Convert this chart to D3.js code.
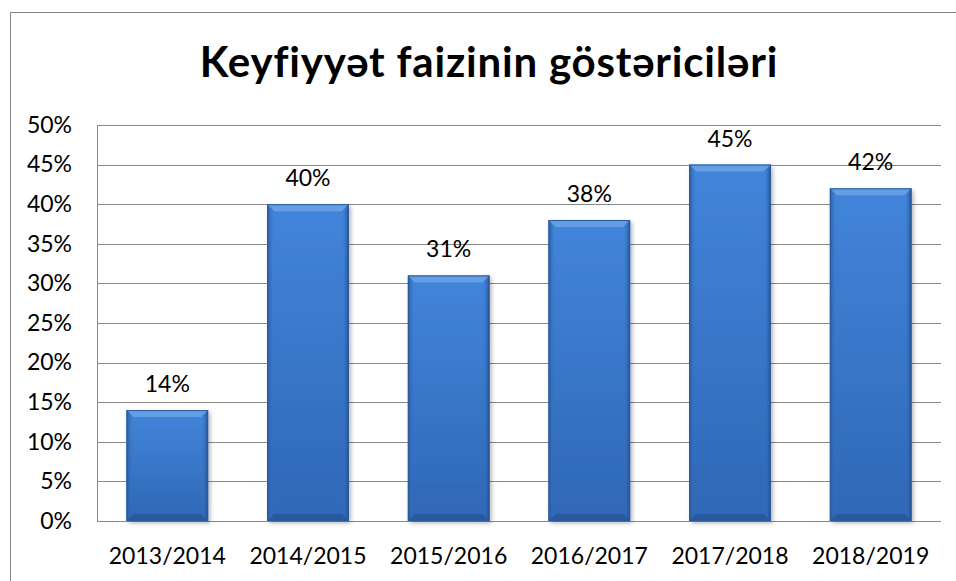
<!DOCTYPE html>
<html>
<head>
<meta charset="utf-8">
<script src="https://cdnjs.cloudflare.com/ajax/libs/d3/7.8.5/d3.min.js"></script>
<style>
	body { margin: 0; background: #fff; }
	text { font-family: Lato, "Open Sans", sans-serif; fill: #000; }
</style>
</head>
<body>
<div id="chart"></div>
<script>
var categories = ["2013/2014", "2014/2015", "2015/2016", "2016/2017", "2017/2018", "2018/2019"];
var values = [14, 40, 31, 38, 45, 42];
var yTicks = [0, 5, 10, 15, 20, 25, 30, 35, 40, 45, 50];
var title = "Keyfiyyət faizinin göstəriciləri";

var width = 956, height = 581;
var plot = { left: 97, right: 941, top: 125, bottom: 521 };
var labelSize = "23px";

var svg = d3.select("#chart").append("svg")
	.attr("width", width)
	.attr("height", height);

// bar gradients
var defs = svg.append("defs");
var body = defs.append("linearGradient").attr("id", "barBody")
	.attr("x1", 0).attr("y1", 0).attr("x2", 0).attr("y2", 1);
body.append("stop").attr("offset", "0%").attr("stop-color", "#4285da");
body.append("stop").attr("offset", "100%").attr("stop-color", "#2f67b6");

var side = defs.append("linearGradient").attr("id", "barSide")
	.attr("x1", 0).attr("y1", 0).attr("x2", 1).attr("y2", 0);
side.append("stop").attr("offset", "0%").attr("stop-color", "#2a5a9f");
side.append("stop").attr("offset", "8%").attr("stop-color", "#3a77c9").attr("stop-opacity", 0);
side.append("stop").attr("offset", "92%").attr("stop-color", "#3a77c9").attr("stop-opacity", 0);
side.append("stop").attr("offset", "100%").attr("stop-color", "#244f8e");

defs.append("filter").attr("id", "shadow")
	.attr("x", "-10%").attr("y", "-10%").attr("width", "130%").attr("height", "130%")
	.append("feDropShadow")
	.attr("dx", 2).attr("dy", 2).attr("stdDeviation", 2)
	.attr("flood-color", "#000").attr("flood-opacity", 0.3);

// outer frame
svg.append("rect")
	.attr("x", 10.5).attr("y", 12.5)
	.attr("width", 980).attr("height", 620)
	.attr("fill", "none")
	.attr("stroke", "#868686");

svg.append("text")
	.attr("x", 489)
	.attr("y", 77)
	.attr("text-anchor", "middle")
	.style("font-size", "42px")
	.style("font-weight", "bold")
	.style("letter-spacing", "0.8px")
	.text(title);

var x = d3.scaleBand()
	.domain(categories)
	.range([plot.left, plot.right])
	.paddingInner(0.42)
	.paddingOuter(0.21);

var y = d3.scaleLinear()
	.domain([0, 50])
	.range([plot.bottom, plot.top]);

// gridlines
svg.append("g")
	.selectAll("line")
	.data(yTicks)
	.enter()
	.append("line")
	.attr("x1", plot.left)
	.attr("x2", plot.right)
	.attr("y1", function(d) { return Math.round(y(d)) + 0.5; })
	.attr("y2", function(d) { return Math.round(y(d)) + 0.5; })
	.attr("stroke", "#898989")
	.attr("stroke-width", 1.2);

svg.append("line")
	.attr("x1", plot.left + 0.5).attr("x2", plot.left + 0.5)
	.attr("y1", plot.top).attr("y2", plot.bottom + 1)
	.attr("stroke", "#898989");

// y axis labels
var yAxis = svg.append("g")
	.attr("transform", "translate(" + (plot.left - 25) + ",0)")
	.call(d3.axisLeft(y).tickValues(yTicks).tickSize(0).tickPadding(0)
		.tickFormat(function(d) { return d + "%"; }));
yAxis.select(".domain").remove();
yAxis.selectAll("text")
	.style("font-size", labelSize)
	.style("font-family", "Lato, sans-serif")
	.attr("fill", "#000");

// x axis labels
var xAxis = svg.append("g")
	.attr("transform", "translate(0," + plot.bottom + ")")
	.call(d3.axisBottom(x).tickSize(0).tickPadding(0));
xAxis.select(".domain").remove();
xAxis.selectAll("text")
	.attr("dy", null)
	.attr("y", 43)
	.style("font-size", labelSize)
	.style("font-family", "Lato, sans-serif")
	.attr("fill", "#000");

// bars
var bars = svg.append("g")
	.selectAll("g.bar")
	.data(values)
	.enter()
	.append("g")
	.classed("bar", true);

bars.append("rect")
	.attr("x", function(d, i) { return x(categories[i]); })
	.attr("y", function(d) { return y(d); })
	.attr("width", x.bandwidth())
	.attr("height", function(d) { return y(0) - y(d); })
	.attr("fill", "url(#barBody)")
	.attr("filter", "url(#shadow)");

bars.append("rect")
	.attr("x", function(d, i) { return x(categories[i]); })
	.attr("y", function(d) { return y(d); })
	.attr("width", x.bandwidth())
	.attr("height", function(d) { return y(0) - y(d); })
	.attr("fill", "url(#barSide)");

// top bevel
var bev = 7;
bars.append("path")
	.attr("d", function(d, i) {
		var x0 = x(categories[i]), x1 = x0 + x.bandwidth(), yt = y(d);
		return "M" + x0 + "," + yt + " L" + x1 + "," + yt +
			" L" + (x1 - bev) + "," + (yt + bev) + " L" + (x0 + bev) + "," + (yt + bev) + " Z";
	})
	.attr("fill", "#6aa3e6")
	.attr("opacity", 0.85);

// bottom bevel
bars.append("path")
	.attr("d", function(d, i) {
		var x0 = x(categories[i]), x1 = x0 + x.bandwidth(), yb = y(0);
		return "M" + x0 + "," + yb + " L" + x1 + "," + yb +
			" L" + (x1 - bev) + "," + (yb - bev) + " L" + (x0 + bev) + "," + (yb - bev) + " Z";
	})
	.attr("fill", "#24508f")
	.attr("opacity", 0.6);

bars.append("rect")
	.attr("x", function(d, i) { return x(categories[i]) + 0.5; })
	.attr("y", function(d) { return y(d) + 0.5; })
	.attr("width", x.bandwidth() - 1)
	.attr("height", function(d) { return y(0) - y(d) - 1; })
	.attr("fill", "none")
	.attr("stroke", "#2a5a9c")
	.attr("stroke-width", 1);

// value labels
svg.append("g")
	.selectAll("text")
	.data(values)
	.enter()
	.append("text")
	.attr("x", function(d, i) { return x(categories[i]) + x.bandwidth() / 2; })
	.attr("y", function(d) { return y(d) - 18; })
	.attr("text-anchor", "middle")
	.style("font-size", labelSize)
	.text(function(d) { return d + "%"; });
</script>
</body>
</html>
